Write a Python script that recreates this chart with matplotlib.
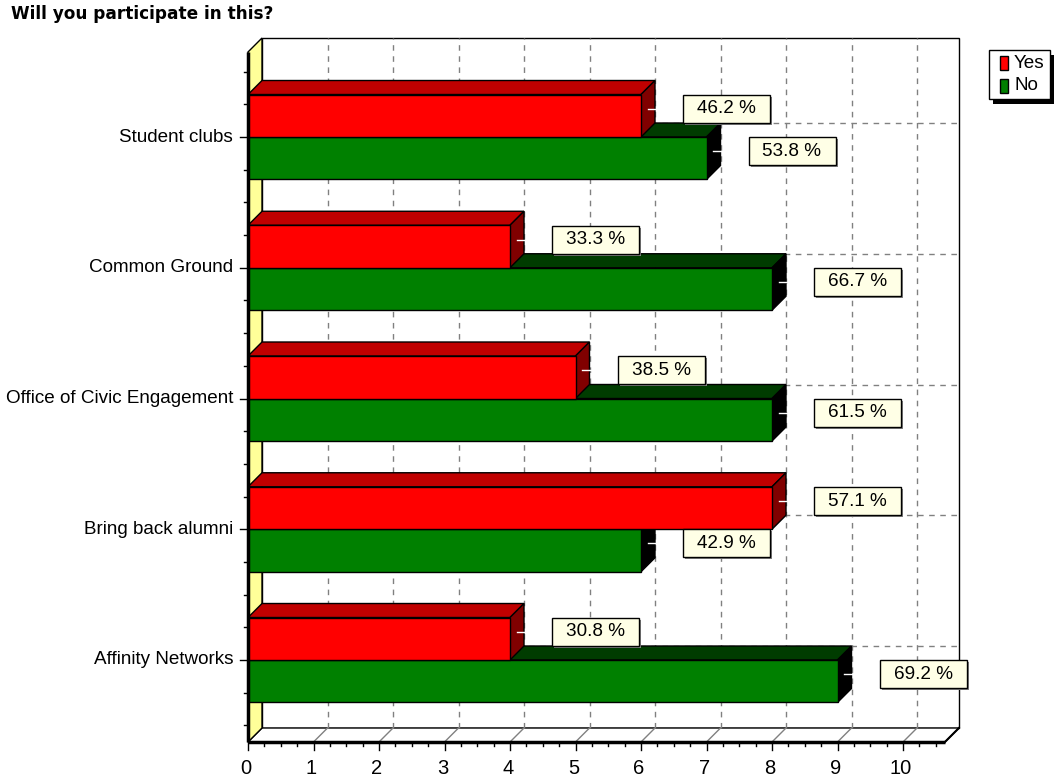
import numpy as np
import matplotlib
matplotlib.use("Agg")
import matplotlib.pyplot as plt
from matplotlib.patches import Polygon, Rectangle

# data
categories = ["Student clubs", "Common Ground", "Office of Civic Engagement",
              "Bring back alumni", "Affinity Networks"]
yes_vals = [6, 4, 5, 8, 4]
no_vals = [7, 8, 8, 6, 9]
series_names = ["Yes", "No"]
x_ticks = list(range(0, 11))

# pixel geometry of the reference (1054 x 780)
W, H = 1054, 780
X0PIX, XUNIT = 248, 65.5       # pixel of value 0, pixels per unit
Y0PIX, YUNIT = 120, 130.75     # bottom-based pixel of lowest category, px per category

def px(xp):
    return (xp - X0PIX) / XUNIT

def py(yp_top):
    return ((H - yp_top) - Y0PIX) / YUNIT

DX = 14 / XUNIT
DY = 14 / YUNIT
BH = 0.325
XMAX = 10.64
YBOT = py(742)
YTOP = py(38)

FONT = "Liberation Sans"
FS = 13.6

fig = plt.figure(figsize=(W / 100, H / 100), dpi=100)
ax = fig.add_axes([0, 0, 1, 1])
ax.set_xlim(px(0), px(W))
ax.set_ylim(py(H), py(0))
ax.axis("off")

# back wall, floor, left wall
ax.add_patch(Rectangle((DX, YBOT + DY), XMAX, YTOP - YBOT - DY,
                       facecolor="white", edgecolor="black", lw=1, zorder=1))
ax.add_patch(Polygon([(0, YBOT), (XMAX, YBOT), (XMAX + DX, YBOT + DY), (DX, YBOT + DY)],
                     closed=True, facecolor="white", edgecolor="black", lw=1, zorder=1))
ax.add_patch(Polygon([(0, YBOT), (DX, YBOT + DY), (DX, YTOP), (0, YTOP - DY)],
                     closed=True, facecolor="#ffff99", edgecolor="black", lw=1, zorder=1))

ypos = np.arange(len(categories))[::-1].astype(float)

# grid on back wall and floor
grid_kw = dict(color="#808080", lw=1, ls=(0, (4, 4)), zorder=2)
for v in x_ticks[1:]:
    ax.plot([v + DX, v + DX], [YBOT + DY, YTOP], **grid_kw)
    ax.plot([v, v + DX], [YBOT, YBOT + DY], color="#808080", lw=1, zorder=2)
for y in ypos:
    ax.plot([DX, XMAX + DX], [y + DY, y + DY], **grid_kw)

def bar3d(vals, base, front, top, side, z, name):
    ax.barh(base, vals, height=BH, align="edge", color=front, edgecolor="black",
            lw=1, zorder=z + 0.5, label=name)
    for v, b in zip(vals, base):
        ax.add_patch(Polygon([(0, b + BH), (v, b + BH), (v + DX, b + BH + DY), (DX, b + BH + DY)],
                             closed=True, facecolor=top, edgecolor="black", lw=1, zorder=z))
        ax.add_patch(Polygon([(v, b), (v + DX, b + DY), (v + DX, b + BH + DY), (v, b + BH)],
                             closed=True, facecolor=side, edgecolor="black", lw=1, zorder=z))

bar3d(no_vals, ypos - BH, "#008000", "#003c00", "#000000", 3, "No")
bar3d(yes_vals, ypos, "#ff0000", "#c00000", "#800000", 4, "Yes")

# value labels
BOXW = 87 / XUNIT
BOXH = 28 / YUNIT
GAP = 28 / XUNIT
for vals, base in ((yes_vals, ypos), (no_vals, ypos - BH)):
    for i, (v, b) in enumerate(zip(vals, base)):
        tot = yes_vals[i] + no_vals[i]
        pct = 100.0 * v / tot
        yc = b + BH / 2 + DY / 2
        ax.plot([v + 0.1, v + DX + 0.02], [yc, yc], color="white", lw=1, zorder=6)
        xl = v + DX + GAP
        ax.add_patch(Rectangle((xl + 2 / XUNIT, yc - BOXH / 2 - 2 / YUNIT), BOXW, BOXH,
                               facecolor="#808080", edgecolor="none", zorder=6))
        ax.add_patch(Rectangle((xl, yc - BOXH / 2), BOXW, BOXH,
                               facecolor="#ffffe6", edgecolor="black", lw=1, zorder=7))
        ax.text(xl + BOXW / 2, yc, f"{pct:.1f} %", ha="center", va="center",
                fontsize=FS, family=FONT, zorder=8)

# axes lines and ticks
ax.plot([0, 0], [YBOT, YTOP - DY], color="black", lw=2.5, zorder=9, solid_capstyle="butt")
ax.plot([0, XMAX], [YBOT, YBOT], color="black", lw=2.5, zorder=9, solid_capstyle="butt")
ax.plot([XMAX, XMAX + DX], [YBOT, YBOT + DY], color="black", lw=1.5, zorder=9)
for v in np.arange(0, XMAX, 0.25):
    major = abs(v - round(v)) < 1e-6
    ax.plot([v, v], [YBOT, YBOT - (8 if major else 4) / YUNIT], color="black", lw=1, zorder=9)
for t in x_ticks:
    ax.text(t - 2 / XUNIT, py(769), str(t), ha="center", va="center", fontsize=14.5, family=FONT)
for y in np.arange(-0.5, 4.75, 0.25):
    if y < YBOT or y > YTOP - DY:
        continue
    major = abs(y - round(y)) < 1e-6
    ax.plot([0, -(8 if major else 4) / XUNIT], [y, y], color="black", lw=1, zorder=9)
for y, c in zip(ypos, categories):
    ax.text(px(233), y, c, ha="right", va="center", fontsize=FS, family=FONT)

# legend
lx0, lx1, ly0, ly1 = px(989), px(1050), py(99), py(50)
ax.add_patch(Rectangle((lx0 + 4 / XUNIT, ly0 - 5 / YUNIT), lx1 - lx0, ly1 - ly0,
                       facecolor="black", edgecolor="none", zorder=10, clip_on=False))
ax.add_patch(Rectangle((lx0, ly0), lx1 - lx0, ly1 - ly0,
                       facecolor="white", edgecolor="black", lw=1, zorder=11))
for name, col, yt in (("Yes", "#ff0000", 63), ("No", "#008000", 86)):
    ax.add_patch(Rectangle((px(1000), py(yt + 7)), 8 / XUNIT, 14 / YUNIT,
                           facecolor=col, edgecolor="black", lw=1, zorder=12))
    ax.text(px(1014), py(yt), name, ha="left", va="center", fontsize=FS, family=FONT, zorder=12)

fig.text(11 / W, 1 - 14 / H, "Will you participate in this?", ha="left", va="center",
         fontsize=12.2, fontweight="bold", family="DejaVu Sans")

fig.savefig("out.png", dpi=100)
